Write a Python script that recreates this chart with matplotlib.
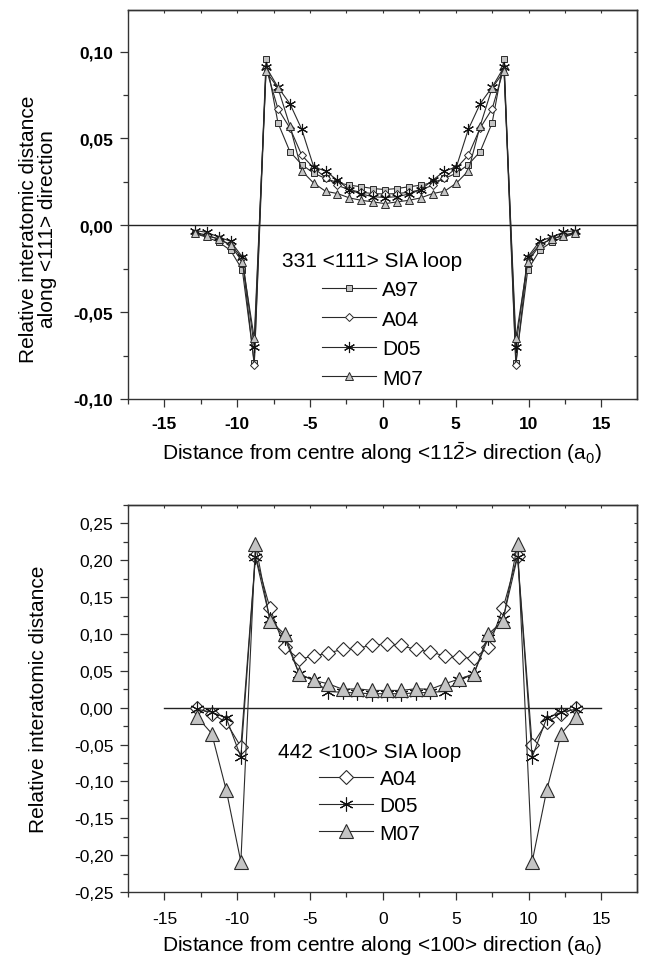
import numpy as np
import matplotlib
matplotlib.use("Agg")
import matplotlib.pyplot as plt
from matplotlib.ticker import MultipleLocator, FuncFormatter
from matplotlib.lines import Line2D

plt.rcParams['font.family'] = ['Liberation Sans', 'DejaVu Sans']
plt.rcParams['mathtext.fontset'] = 'custom'
plt.rcParams['mathtext.rm'] = 'Liberation Sans'
plt.rcParams['mathtext.it'] = 'Liberation Sans:italic'
plt.rcParams['axes.unicode_minus'] = False

# ---- top panel: 331 <111> SIA loop, positions along <112> (a0)
x_top = [-12.91, -12.10, -11.28, -10.46, -9.65, -8.83, -8.02, -7.20, -6.38, -5.57,
         -4.75, -3.93, -3.12, -2.30, -1.48, -0.67, 0.15, 0.97, 1.78, 2.60,
         3.42, 4.23, 5.05, 5.87, 6.68, 7.50, 8.32, 9.13, 9.95, 10.77,
         11.58, 12.40, 13.21]
a97_top = [-0.0048, -0.0068, -0.0096, -0.0144, -0.0256, -0.0790, 0.0958, 0.0589, 0.0424, 0.0350,
           0.0300, 0.0270, 0.0246, 0.0231, 0.0222, 0.0212, 0.0206, 0.0212, 0.0222, 0.0231,
           0.0246, 0.0270, 0.0300, 0.0350, 0.0424, 0.0589, 0.0958, -0.0790, -0.0256, -0.0144,
           -0.0096, -0.0068, -0.0048]
a04_top = [-0.0042, -0.0055, -0.0080, -0.0110, -0.0190, -0.0805, 0.0905, 0.0670, 0.0560, 0.0404,
           0.0330, 0.0275, 0.0230, 0.0205, 0.0190, 0.0183, 0.0180, 0.0183, 0.0190, 0.0205,
           0.0230, 0.0275, 0.0330, 0.0404, 0.0560, 0.0670, 0.0905, -0.0805, -0.0190, -0.0110,
           -0.0080, -0.0055, -0.0042]
d05_top = [-0.0030, -0.0040, -0.0067, -0.0092, -0.0182, -0.0702, 0.0912, 0.0795, 0.0700, 0.0553,
           0.0337, 0.0312, 0.0260, 0.0205, 0.0180, 0.0165, 0.0160, 0.0165, 0.0180, 0.0205,
           0.0260, 0.0312, 0.0337, 0.0553, 0.0700, 0.0795, 0.0912, -0.0702, -0.0182, -0.0092,
           -0.0067, -0.0040, -0.0030]
m07_top = [-0.0046, -0.0062, -0.0077, -0.0115, -0.0209, -0.0650, 0.0887, 0.0790, 0.0572, 0.0314,
           0.0243, 0.0196, 0.0183, 0.0158, 0.0144, 0.0135, 0.0125, 0.0135, 0.0144, 0.0158,
           0.0183, 0.0196, 0.0243, 0.0314, 0.0572, 0.0790, 0.0887, -0.0650, -0.0209, -0.0115,
           -0.0077, -0.0062, -0.0046]

# ---- bottom panel: 442 <100> SIA loop, positions along <100> (a0)
x_bot = [-12.75, -11.75, -10.75, -9.75, -8.75, -7.75, -6.75, -5.75, -4.75, -3.75,
         -2.75, -1.75, -0.75, 0.25, 1.25, 2.25, 3.25, 4.25, 5.25, 6.25,
         7.25, 8.25, 9.25, 10.25, 11.25, 12.25, 13.25]
a04_bot = [-0.001, -0.008, -0.020, -0.053, 0.206, 0.135, 0.082, 0.066, 0.070, 0.0745,
           0.079, 0.081, 0.0845, 0.0867, 0.0845, 0.079, 0.076, 0.070, 0.0687, 0.067,
           0.082, 0.135, 0.206, -0.051, -0.020, -0.008, -0.001]
d05_bot = [-0.002, -0.006, -0.014, -0.067, 0.205, 0.120, 0.095, 0.046, 0.037, 0.022,
           0.021, 0.020, 0.019, 0.019, 0.019, 0.020, 0.021, 0.022, 0.037, 0.046,
           0.095, 0.120, 0.205, -0.067, -0.014, -0.006, -0.002]
m07_bot = [-0.0126, -0.035, -0.112, -0.209, 0.222, 0.118, 0.100, 0.046, 0.037, 0.0325,
           0.025, 0.0257, 0.0235, 0.0235, 0.0235, 0.0257, 0.025, 0.0325, 0.039, 0.046,
           0.100, 0.118, 0.222, -0.209, -0.112, -0.035, -0.0126]

GREY = '#c4c4c4'
EDGE = '#2a2a2a'
STAR = (6, 2, 0)


def comma_fmt(v, pos):
    return f"{v:.2f}".replace('.', ',').replace('-0,00', '0,00')


def style_axes(ax, ylim, bold, xpad):
    ax.set_xlim(-17.5, 17.45)
    ax.set_ylim(*ylim)
    ax.xaxis.set_major_locator(MultipleLocator(5))
    ax.xaxis.set_minor_locator(MultipleLocator(2.5))
    ax.yaxis.set_major_locator(MultipleLocator(0.05))
    ax.yaxis.set_minor_locator(MultipleLocator(0.025))
    ax.yaxis.set_major_formatter(FuncFormatter(comma_fmt))
    ax.tick_params(which='major', direction='out', length=6, width=0.9,
                   labelsize=12.5, color='#333333')
    ax.tick_params(axis='x', which='major', pad=xpad)
    ax.tick_params(axis='y', which='major', pad=4.5)
    ax.tick_params(which='minor', direction='out', length=3.5, width=0.9, color='#333333')
    for lab in ax.get_xticklabels() + ax.get_yticklabels():
        lab.set_fontweight('bold' if bold else 'normal')
    for sp in ax.spines.values():
        sp.set_linewidth(1.0)
        sp.set_color('#333333')
    # inward ticks on top and right
    top = ax.secondary_xaxis('top')
    top.xaxis.set_major_locator(MultipleLocator(2.5))
    top.tick_params(direction='in', length=2.5, width=0.8, labeltop=False, color='#333333')
    right = ax.secondary_yaxis('right')
    right.yaxis.set_major_locator(MultipleLocator(0.025))
    right.tick_params(direction='in', length=2.5, width=0.8, labelright=False, color='#333333')
    for sec in (top, right):
        for sp in sec.spines.values():
            sp.set_linewidth(1.0)
            sp.set_color('#333333')


fig = plt.figure(figsize=(6.52, 9.62), dpi=100)

# ---------------- top panel
ax1 = fig.add_axes([0.1963, 0.5842, 0.7807, 0.4044])
ax1.axhline(0, color='#222222', lw=1.0, zorder=1)
lw = 0.8
ax1.plot(x_top, a97_top, color=EDGE, lw=lw, marker='s', ms=5, mfc=GREY, mec=EDGE, mew=0.7, zorder=2)
ax1.plot(x_top, a04_top, color=EDGE, lw=lw, marker='D', ms=4.3, mfc='white', mec=EDGE, mew=0.7, zorder=3)
ax1.plot(x_top, d05_top, color=EDGE, lw=lw, marker=STAR, ms=8, mec='#111111', mew=0.8, zorder=4)
ax1.plot(x_top, m07_top, color=EDGE, lw=lw, marker='^', ms=6.3, mfc=GREY, mec=EDGE, mew=0.7, zorder=5)
style_axes(ax1, (-0.10, 0.124), bold=True, xpad=6)
ax1.set_xlabel(r'Distance from centre along <11$\bar{2}$> direction (a$_0$)', fontsize=15, labelpad=6)
ax1.set_ylabel('Relative interatomic distance\nalong <111> direction', fontsize=15, linespacing=1.0)
ax1.yaxis.set_label_coords(-0.14, 0.44)

h_top = [
    Line2D([], [], color=EDGE, lw=lw, marker='s', ms=5, mfc=GREY, mec=EDGE, mew=0.7),
    Line2D([], [], color=EDGE, lw=lw, marker='D', ms=4.3, mfc='white', mec=EDGE, mew=0.7),
    Line2D([], [], color=EDGE, lw=lw, marker=STAR, ms=8, mec='#111111', mew=0.8),
    Line2D([], [], color=EDGE, lw=lw, marker='^', ms=6.3, mfc=GREY, mec=EDGE, mew=0.7),
]
leg1 = ax1.legend(h_top, ['A97', 'A04', 'D05', 'M07'], title='331 <111> SIA loop',
                  loc='center', bbox_to_anchor=(0.48, 0.205), frameon=False,
                  fontsize=15, title_fontsize=15, handlelength=2.6, handletextpad=0.3,
                  labelspacing=0.5, borderpad=0.2)

# ---------------- bottom panel
ax2 = fig.add_axes([0.1963, 0.0717, 0.7807, 0.4023])
ax2.plot([-15, 15], [0, 0], color='#222222', lw=1.0, zorder=1)
ax2.plot(x_bot, a04_bot, color=EDGE, lw=lw, marker='D', ms=7.6, mfc='white', mec=EDGE, mew=0.8, zorder=3)
ax2.plot(x_bot, d05_bot, color=EDGE, lw=lw, marker=STAR, ms=10, mec='#111111', mew=0.8, zorder=4)
ax2.plot(x_bot, m07_bot, color=EDGE, lw=lw, marker='^', ms=10, mfc=GREY, mec=EDGE, mew=0.8, zorder=5)
style_axes(ax2, (-0.25, 0.275), bold=False, xpad=8)
ax2.set_xlabel(r'Distance from centre along <100> direction (a$_0$)', fontsize=15, labelpad=5)
ax2.set_ylabel('Relative interatomic distance', fontsize=15)
ax2.yaxis.set_label_coords(-0.157, 0.5)

h_bot = [
    Line2D([], [], color=EDGE, lw=lw, marker='D', ms=7.6, mfc='white', mec=EDGE, mew=0.8),
    Line2D([], [], color=EDGE, lw=lw, marker=STAR, ms=10, mec='#111111', mew=0.8),
    Line2D([], [], color=EDGE, lw=lw, marker='^', ms=10, mfc=GREY, mec=EDGE, mew=0.8),
]
leg2 = ax2.legend(h_bot, ['A04', 'D05', 'M07'], title='442 <100> SIA loop',
                  loc='center', bbox_to_anchor=(0.475, 0.258), frameon=False,
                  fontsize=15, title_fontsize=15, handlelength=2.6, handletextpad=0.3,
                  labelspacing=0.4, borderpad=0.2)

fig.savefig('out.png', dpi=100)
